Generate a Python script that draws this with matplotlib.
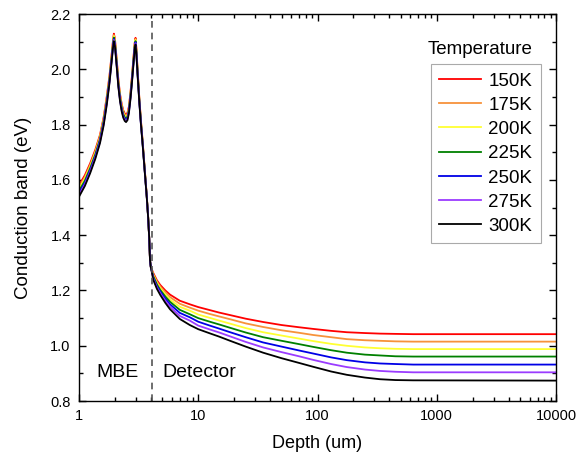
import numpy as np
import matplotlib.pyplot as plt
from matplotlib.ticker import FixedLocator, FuncFormatter, MultipleLocator, LogLocator

plt.rcParams['font.family'] = ['Liberation Sans', 'DejaVu Sans']

# depth grid (um): MBE layers up to the interface, then the detector
depth_mbe = [1.0, 1.12, 1.24, 1.37, 1.5, 1.61, 1.71, 1.8, 1.88, 1.93, 1.96, 2.0, 2.07, 2.14,
             2.21, 2.28, 2.35, 2.42, 2.48, 2.55, 2.62, 2.7, 2.78, 2.86, 2.93, 2.98, 3.03,
             3.1, 3.2, 3.3, 3.42, 3.57, 3.7, 3.8, 3.88, 3.94, 4.0, 4.1]
depth_det = [4.2, 4.5, 4.8, 5.3, 5.8, 7, 8.5, 10, 12.5, 15, 18.5, 25, 35, 50, 70, 92,
             130, 176, 250, 334, 450, 634, 10000]
depth = depth_mbe + depth_det

temps = ['150K', '175K', '200K', '225K', '250K', '275K', '300K']
colors = ['#ff0000', '#f7923a', '#ffff33', '#008000', '#0000e6', '#9b3cff', '#000000']

cb_150 = [1.581, 1.617, 1.660, 1.709, 1.763, 1.827, 1.902, 1.976, 2.056, 2.106, 2.129, 2.112, 2.037, 1.962,
          1.910, 1.875, 1.852, 1.840, 1.836, 1.843, 1.865, 1.915, 1.975, 2.040, 2.095, 2.114, 2.075,
          1.999, 1.902, 1.820, 1.737, 1.631, 1.543, 1.467, 1.390, 1.310, 1.285, 1.274,
          1.263, 1.237, 1.220, 1.200, 1.185, 1.163, 1.150, 1.140, 1.129, 1.120, 1.111, 1.098, 1.086,
          1.075, 1.067, 1.061, 1.054, 1.049, 1.046, 1.044, 1.043, 1.042, 1.042]
cb_175 = [1.574, 1.610, 1.654, 1.703, 1.758, 1.822, 1.897, 1.971, 2.051, 2.101, 2.124, 2.107, 2.032, 1.957,
          1.905, 1.870, 1.847, 1.835, 1.831, 1.838, 1.861, 1.911, 1.971, 2.036, 2.091, 2.110, 2.071,
          1.995, 1.899, 1.817, 1.735, 1.629, 1.542, 1.466, 1.390, 1.310, 1.285, 1.272,
          1.259, 1.232, 1.214, 1.193, 1.176, 1.152, 1.138, 1.127, 1.115, 1.106, 1.096, 1.081, 1.068,
          1.056, 1.047, 1.039, 1.031, 1.024, 1.020, 1.018, 1.016, 1.015, 1.015]
cb_200 = [1.567, 1.604, 1.648, 1.698, 1.753, 1.817, 1.892, 1.967, 2.047, 2.097, 2.120, 2.103, 2.028, 1.953,
          1.901, 1.866, 1.843, 1.831, 1.827, 1.834, 1.857, 1.907, 1.967, 2.032, 2.087, 2.106, 2.067,
          1.992, 1.896, 1.815, 1.733, 1.628, 1.541, 1.466, 1.390, 1.310, 1.285, 1.270,
          1.255, 1.227, 1.208, 1.185, 1.167, 1.141, 1.127, 1.113, 1.101, 1.091, 1.080, 1.064, 1.049,
          1.037, 1.026, 1.017, 1.007, 1.000, 0.994, 0.991, 0.989, 0.988, 0.988]
cb_225 = [1.560, 1.597, 1.642, 1.692, 1.748, 1.812, 1.887, 1.962, 2.042, 2.092, 2.115, 2.098, 2.023, 1.948,
          1.896, 1.861, 1.838, 1.826, 1.822, 1.829, 1.853, 1.903, 1.963, 2.028, 2.083, 2.102, 2.063,
          1.988, 1.893, 1.812, 1.731, 1.626, 1.540, 1.465, 1.390, 1.310, 1.285, 1.268,
          1.251, 1.222, 1.202, 1.178, 1.159, 1.130, 1.114, 1.100, 1.087, 1.077, 1.065, 1.048, 1.031,
          1.018, 1.006, 0.996, 0.984, 0.975, 0.968, 0.965, 0.962, 0.961, 0.961]
cb_250 = [1.553, 1.590, 1.636, 1.686, 1.743, 1.807, 1.882, 1.957, 2.037, 2.087, 2.110, 2.093, 2.018, 1.943,
          1.891, 1.856, 1.833, 1.821, 1.817, 1.824, 1.849, 1.899, 1.959, 2.024, 2.079, 2.098, 2.059,
          1.984, 1.890, 1.809, 1.729, 1.624, 1.539, 1.464, 1.390, 1.310, 1.285, 1.266,
          1.246, 1.216, 1.196, 1.170, 1.150, 1.119, 1.103, 1.087, 1.073, 1.062, 1.049, 1.031, 1.012,
          0.997, 0.983, 0.972, 0.958, 0.948, 0.940, 0.936, 0.934, 0.932, 0.932]
cb_275 = [1.546, 1.584, 1.630, 1.681, 1.738, 1.802, 1.877, 1.953, 2.033, 2.083, 2.106, 2.089, 2.014, 1.939,
          1.887, 1.852, 1.829, 1.817, 1.813, 1.820, 1.845, 1.895, 1.955, 2.020, 2.075, 2.094, 2.055,
          1.981, 1.887, 1.807, 1.727, 1.623, 1.538, 1.464, 1.390, 1.310, 1.285, 1.264,
          1.242, 1.211, 1.190, 1.163, 1.141, 1.108, 1.091, 1.073, 1.059, 1.048, 1.034, 1.014, 0.994,
          0.977, 0.962, 0.949, 0.934, 0.923, 0.914, 0.909, 0.906, 0.904, 0.904]
cb_300 = [1.539, 1.578, 1.624, 1.676, 1.733, 1.797, 1.872, 1.949, 2.029, 2.079, 2.102, 2.085, 2.010, 1.935,
          1.883, 1.848, 1.825, 1.813, 1.809, 1.816, 1.841, 1.891, 1.951, 2.016, 2.071, 2.090, 2.051,
          1.978, 1.884, 1.805, 1.725, 1.622, 1.537, 1.464, 1.390, 1.310, 1.285, 1.262,
          1.238, 1.206, 1.184, 1.155, 1.132, 1.097, 1.075, 1.060, 1.045, 1.033, 1.018, 0.997, 0.975,
          0.955, 0.938, 0.924, 0.907, 0.895, 0.885, 0.879, 0.876, 0.875, 0.874]

bands = [cb_150, cb_175, cb_200, cb_225, cb_250, cb_275, cb_300]
interface = 4.1  # MBE / detector boundary (um)

fig = plt.figure(figsize=(5.83, 4.61), dpi=100)
ax = fig.add_axes([0.1355, 0.130, 0.8182, 0.8396])

for t, c, cb in zip(temps, colors, bands):
    ax.plot(depth, cb, color=c, lw=1.3, label=t)

ax.axvline(interface, color='#555555', lw=1.2, ls=(0, (4, 3)))

ax.set_xscale('log')
ax.set_xlim(1, 10000)
ax.set_ylim(0.8, 2.2)
ax.xaxis.set_major_locator(FixedLocator([1, 10, 100, 1000, 10000]))
ax.xaxis.set_minor_locator(LogLocator(base=10, subs=np.arange(2, 10)))
ax.xaxis.set_major_formatter(FuncFormatter(lambda v, p: '%d' % v))
ax.yaxis.set_major_locator(MultipleLocator(0.2))
ax.yaxis.set_minor_locator(MultipleLocator(0.1))
ax.yaxis.set_major_formatter(FuncFormatter(lambda v, p: '%.1f' % v))

ax.tick_params(which='both', direction='in', top=True, right=True, labelsize=10.5, width=1)
ax.tick_params(which='major', length=5, pad=6)
ax.tick_params(which='minor', length=3)
for s in ax.spines.values():
    s.set_linewidth(1)

ax.set_xlabel('Depth (um)', fontsize=13, labelpad=8)
ax.set_ylabel('Conduction band (eV)', fontsize=13.5, labelpad=13)

ax.text(1.41, 0.902, 'MBE', fontsize=14, va='center')
ax.text(5.0, 0.902, 'Detector', fontsize=14, va='center')

leg = ax.legend(loc='upper left', bbox_to_anchor=(0.738, 0.871), fontsize=13.5,
                handlelength=2.2, labelspacing=0.38, handletextpad=0.4,
                borderpad=0.45, borderaxespad=0, fancybox=False, framealpha=1,
                edgecolor='#aaaaaa')
leg.get_frame().set_linewidth(0.8)
ax.text(0.84, 0.909, 'Temperature', transform=ax.transAxes, fontsize=13.5, ha='center', va='center')

fig.savefig('out.png', dpi=100)
